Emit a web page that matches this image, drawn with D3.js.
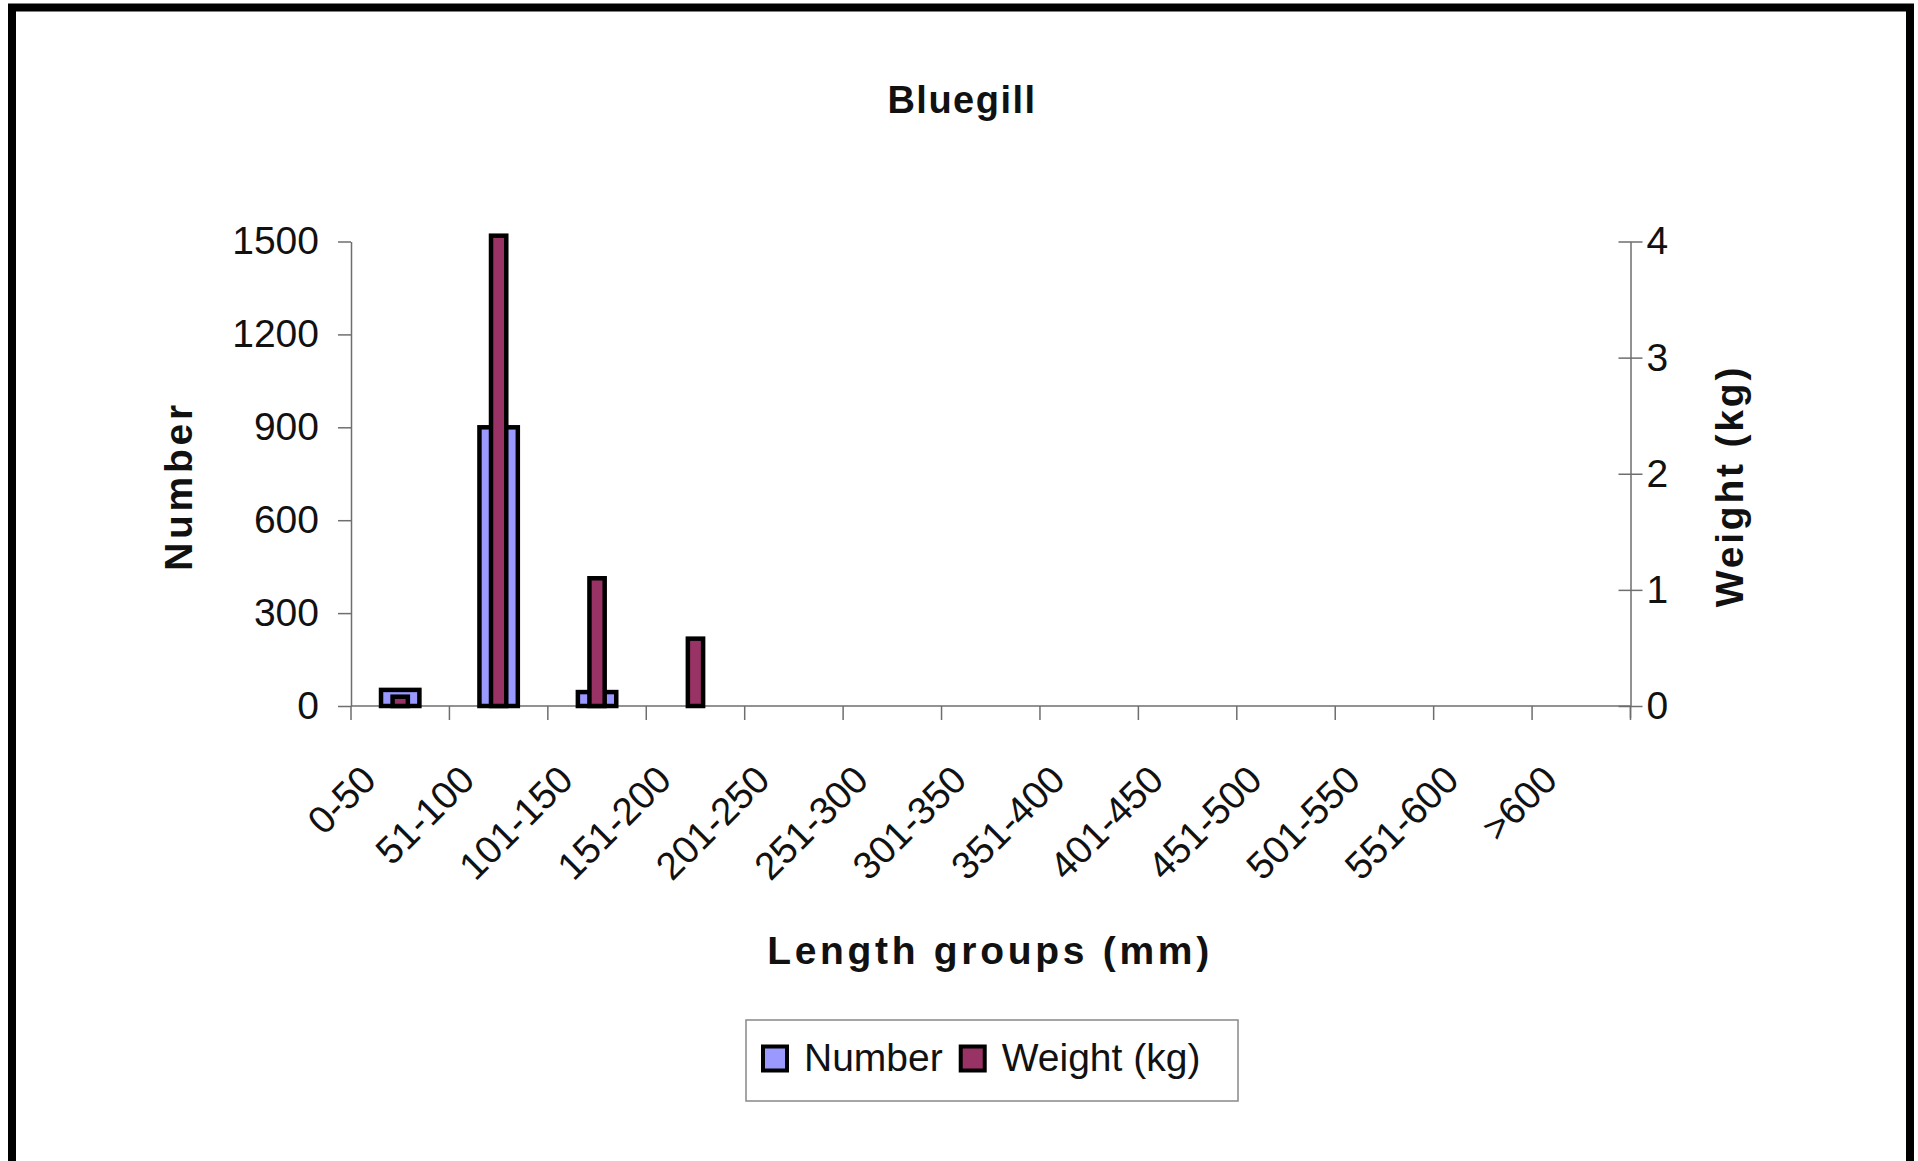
<!DOCTYPE html>
<html>
<head>
<meta charset="utf-8">
<script src="https://cdn.jsdelivr.net/npm/d3@7"></script>
<style>
  html, body { margin: 0; padding: 0; background: #fff; }
  svg { display: block; }
  text { font-family: "Liberation Sans", Arial, Helvetica, sans-serif; fill: #111; }
</style>
</head>
<body>
<svg id="chart" width="1918" height="1161"></svg>
<script>
// ---- data ----
const categories = ["0-50","51-100","101-150","151-200","201-250","251-300","301-350","351-400","401-450","451-500","501-550","551-600",">600"];
const numberValues = [52, 900, 45, 0, 0, 0, 0, 0, 0, 0, 0, 0, 0];
const weightValues = [0.08, 4.05, 1.1, 0.58, 0, 0, 0, 0, 0, 0, 0, 0, 0];
const numberTicks = [0, 300, 600, 900, 1200, 1500];
const weightTicks = [0, 1, 2, 3, 4];
const seriesNames = ["Number", "Weight (kg)"];
const seriesColors = ["#9999FF", "#993366"];
const titleText = "Bluegill";
const xTitle = "Length groups (mm)";
const yLeftTitle = "Number";
const yRightTitle = "Weight (kg)";

// ---- layout ----
const svg = d3.select("#chart");
const plot = { left: 351, right: 1630.5, top: 241.5, bottom: 706 };

svg.append("rect").attr("x", 0).attr("y", 0).attr("width", 1918).attr("height", 1161).attr("fill", "#fff");
// outer frame
svg.append("rect").attr("x", 12).attr("y", 7.5).attr("width", 1898).attr("height", 1220)
  .attr("fill", "none").attr("stroke", "#000").attr("stroke-width", 8);

const x = d3.scaleBand().domain(categories).range([plot.left, plot.right]).padding(0);
const yNum = d3.scaleLinear().domain([0, 1500]).range([plot.bottom, plot.top]);
const yWt = d3.scaleLinear().domain([0, 4]).range([plot.bottom, plot.top]);

const axisColor = "#6e6e6e";
const fmt = d3.format("d");

// title
svg.append("text").attr("x", 962).attr("y", 113).attr("text-anchor", "middle")
  .attr("font-size", 38).attr("font-weight", "bold").attr("letter-spacing", 1.5).text(titleText);

// left axis
const gL = svg.append("g").attr("transform", `translate(${plot.left},0)`)
  .call(d3.axisLeft(yNum).tickValues(numberTicks).tickFormat(fmt).tickSize(13).tickSizeOuter(0).tickPadding(19));
gL.select(".domain").attr("stroke", axisColor).attr("stroke-width", 1.5);
gL.selectAll(".tick line").attr("stroke", axisColor).attr("stroke-width", 1.5);
gL.selectAll(".tick text").attr("font-size", 39).attr("fill", "#111")
  .attr("font-family", '"Liberation Sans", Arial, sans-serif');

// right axis (ticks cross the axis)
const gR = svg.append("g").attr("transform", `translate(${plot.right},0)`)
  .call(d3.axisRight(yWt).tickValues(weightTicks).tickFormat(fmt).tickSize(12).tickSizeOuter(0).tickPadding(4));
gR.select(".domain").attr("stroke", axisColor).attr("stroke-width", 1.5);
gR.selectAll(".tick line").attr("x1", -12).attr("stroke", axisColor).attr("stroke-width", 1.5);
gR.selectAll(".tick text").attr("font-size", 39).attr("fill", "#111")
  .attr("font-family", '"Liberation Sans", Arial, sans-serif');
// extend right axis slightly below baseline
svg.append("line").attr("x1", plot.right).attr("x2", plot.right)
  .attr("y1", plot.bottom).attr("y2", plot.bottom + 12).attr("stroke", axisColor).attr("stroke-width", 1.5);

// x axis line and boundary ticks
svg.append("line").attr("x1", plot.left).attr("x2", plot.right)
  .attr("y1", plot.bottom).attr("y2", plot.bottom).attr("stroke", axisColor).attr("stroke-width", 1.5);
const boundaries = categories.map(c => x(c)).concat([x.range()[1]]);
svg.append("g").selectAll("line").data(boundaries).join("line")
  .attr("x1", d => d).attr("x2", d => d)
  .attr("y1", plot.bottom).attr("y2", plot.bottom + 14)
  .attr("stroke", axisColor).attr("stroke-width", 1.5);

// x tick labels rotated
svg.append("g").selectAll("text").data(categories).join("text")
  .attr("transform", d => `translate(${x(d) + x.bandwidth() / 2 - 22},${plot.bottom + 76}) rotate(-45)`)
  .attr("text-anchor", "end").attr("font-size", 38.5).text(d => d);

// bars
const bw = x.bandwidth();
const wNum = bw * 0.39, wWt = bw * 0.155;
svg.append("g").selectAll("rect").data(categories.map((c, i) => ({ c, v: numberValues[i] })).filter(d => d.v > 0))
  .join("rect")
  .attr("x", d => x(d.c) + bw / 2 - wNum / 2).attr("width", wNum)
  .attr("y", d => yNum(d.v)).attr("height", d => yNum(0) - yNum(d.v))
  .attr("fill", seriesColors[0]).attr("stroke", "#000").attr("stroke-width", 4.5);
svg.append("g").selectAll("rect").data(categories.map((c, i) => ({ c, v: weightValues[i] })).filter(d => d.v > 0))
  .join("rect")
  .attr("x", d => x(d.c) + bw / 2 - wWt / 2).attr("width", wWt)
  .attr("y", d => yWt(d.v)).attr("height", d => yWt(0) - yWt(d.v))
  .attr("fill", seriesColors[1]).attr("stroke", "#000").attr("stroke-width", 4.5);

// axis titles
svg.append("text").attr("x", 990).attr("y", 964).attr("text-anchor", "middle")
  .attr("font-size", 39).attr("font-weight", "bold").attr("letter-spacing", 3.7).text(xTitle);
svg.append("text").attr("transform", "translate(192,486) rotate(-90)").attr("text-anchor", "middle")
  .attr("font-size", 39).attr("font-weight", "bold").attr("letter-spacing", 3.7).text(yLeftTitle);
svg.append("text").attr("transform", "translate(1743,486) rotate(-90)").attr("text-anchor", "middle")
  .attr("font-size", 39).attr("font-weight", "bold").attr("letter-spacing", 2.8).text(yRightTitle);

// legend
const lg = svg.append("g");
lg.append("rect").attr("x", 746).attr("y", 1020).attr("width", 492).attr("height", 81)
  .attr("fill", "#fff").attr("stroke", "#888").attr("stroke-width", 1.5);
let lx = 763;
seriesNames.forEach((name, i) => {
  lg.append("rect").attr("x", lx).attr("y", 1046.5).attr("width", 24).attr("height", 24)
    .attr("fill", seriesColors[i]).attr("stroke", "#000").attr("stroke-width", 4);
  const t = lg.append("text").attr("x", lx + 41).attr("y", 1071).attr("font-size", 39).text(name);
  lx = lx + 41 + t.node().getComputedTextLength() + 18;
});
</script>
</body>
</html>
